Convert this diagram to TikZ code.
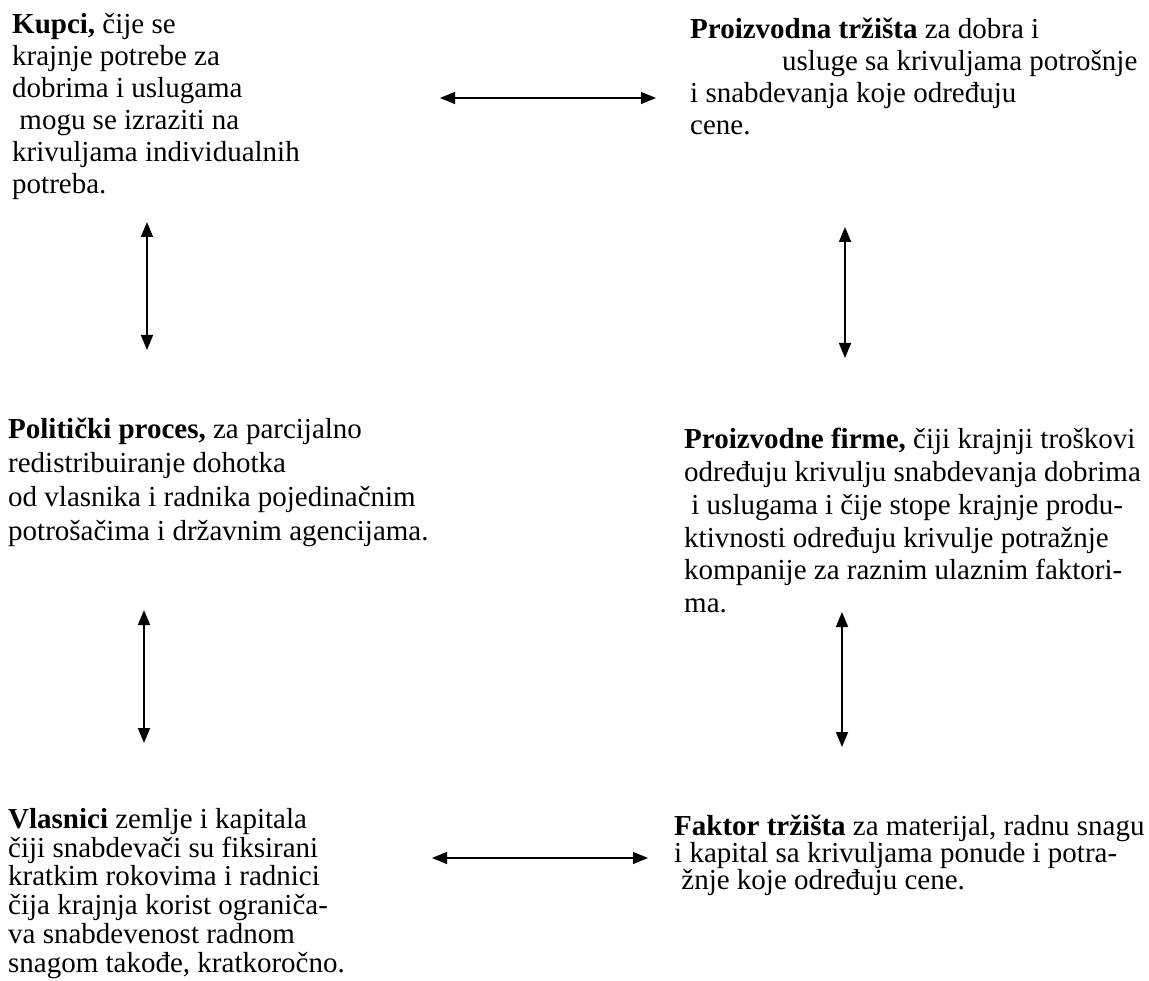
\documentclass[tikz,border=0pt]{standalone}
\usepackage{fontspec}
\setmainfont{Liberation Serif}
\usetikzlibrary{arrows.meta,positioning}

\begin{document}
\begin{tikzpicture}[x=1pt,y=-1pt,
	tekst/.style={anchor=north west, align=left, inner sep=0pt, font=\fontsize{29}{#1}\selectfont},
	tekst/.default=32,
	strelica/.style={{Triangle[length=15pt,width=12pt]}-{Triangle[length=15pt,width=12pt]}, line width=1.6pt}]
		\useasboundingbox (0,0) rectangle (1149,981);
		\node[tekst] (kupci) at (12,13) {\textbf{Kupci,} čije se\\krajnje potrebe za\\dobrima i uslugama\\\hspace*{0.25em}mogu se izraziti na\\krivuljama individualnih\\potreba.};
		\node[tekst] (trziste) at (690,18) {\textbf{Proizvodna tržišta} za dobra i\\\hspace*{92pt}usluge sa krivuljama potrošnje\\i snabdevanja koje određuju\\cene.};
		\node[tekst=34] (politicki) at (8,418) {\textbf{Politički proces,} za parcijalno\\redistribuiranje dohotka\\od vlasnika i radnika pojedinačnim\\potrošačima i državnim agencijama.};
		\node[tekst=32.8] (firme) at (684,428) {\textbf{Proizvodne firme,} čiji krajnji troškovi\\određuju krivulju snabdevanja dobrima\\\hspace*{0.25em}i uslugama i čije stope krajnje produ-\\ktivnosti određuju krivulje potražnje\\kompanije za raznim ulaznim faktori-\\ma.};
		\node[tekst=28.8] (vlasnici) at (8,808) {\textbf{Vlasnici} zemlje i kapitala\\čiji snabdevači su fiksirani\\kratkim rokovima i radnici\\čija krajnja korist ograniča-\\va snabdevenost radnom\\snagom takođe, kratkoročno.};
		\node[tekst=27] (faktor) at (674,815) {\textbf{Faktor tržišta} za materijal, radnu snagu\\i kapital sa krivuljama ponude i potra-\\\hspace*{0.25em}žnje koje određuju cene.};
		\coordinate (kupciE) at (440,98);
		\coordinate (trzisteW) at (656,98);
		\coordinate (kupciS) at (147,222);
		\coordinate (politickiN) at (147,350);
		\coordinate (trzisteS) at (845,227);
		\coordinate (firmeN) at (845,358);
		\coordinate (politickiS) at (144,610);
		\coordinate (vlasniciN) at (144,743);
		\coordinate (firmeS) at (842,612);
		\coordinate (faktorN) at (842,747);
		\coordinate (vlasniciE) at (432,858);
		\coordinate (faktorW) at (648,858);
		\draw[strelica] (kupciE) to (trzisteW);
		\draw[strelica] (kupciS) to (politickiN);
		\draw[strelica] (trzisteS) to (firmeN);
		\draw[strelica] (politickiS) to (vlasniciN);
		\draw[strelica] (firmeS) to (faktorN);
		\draw[strelica] (vlasniciE) to (faktorW);
	\end{tikzpicture}
\end{document}
